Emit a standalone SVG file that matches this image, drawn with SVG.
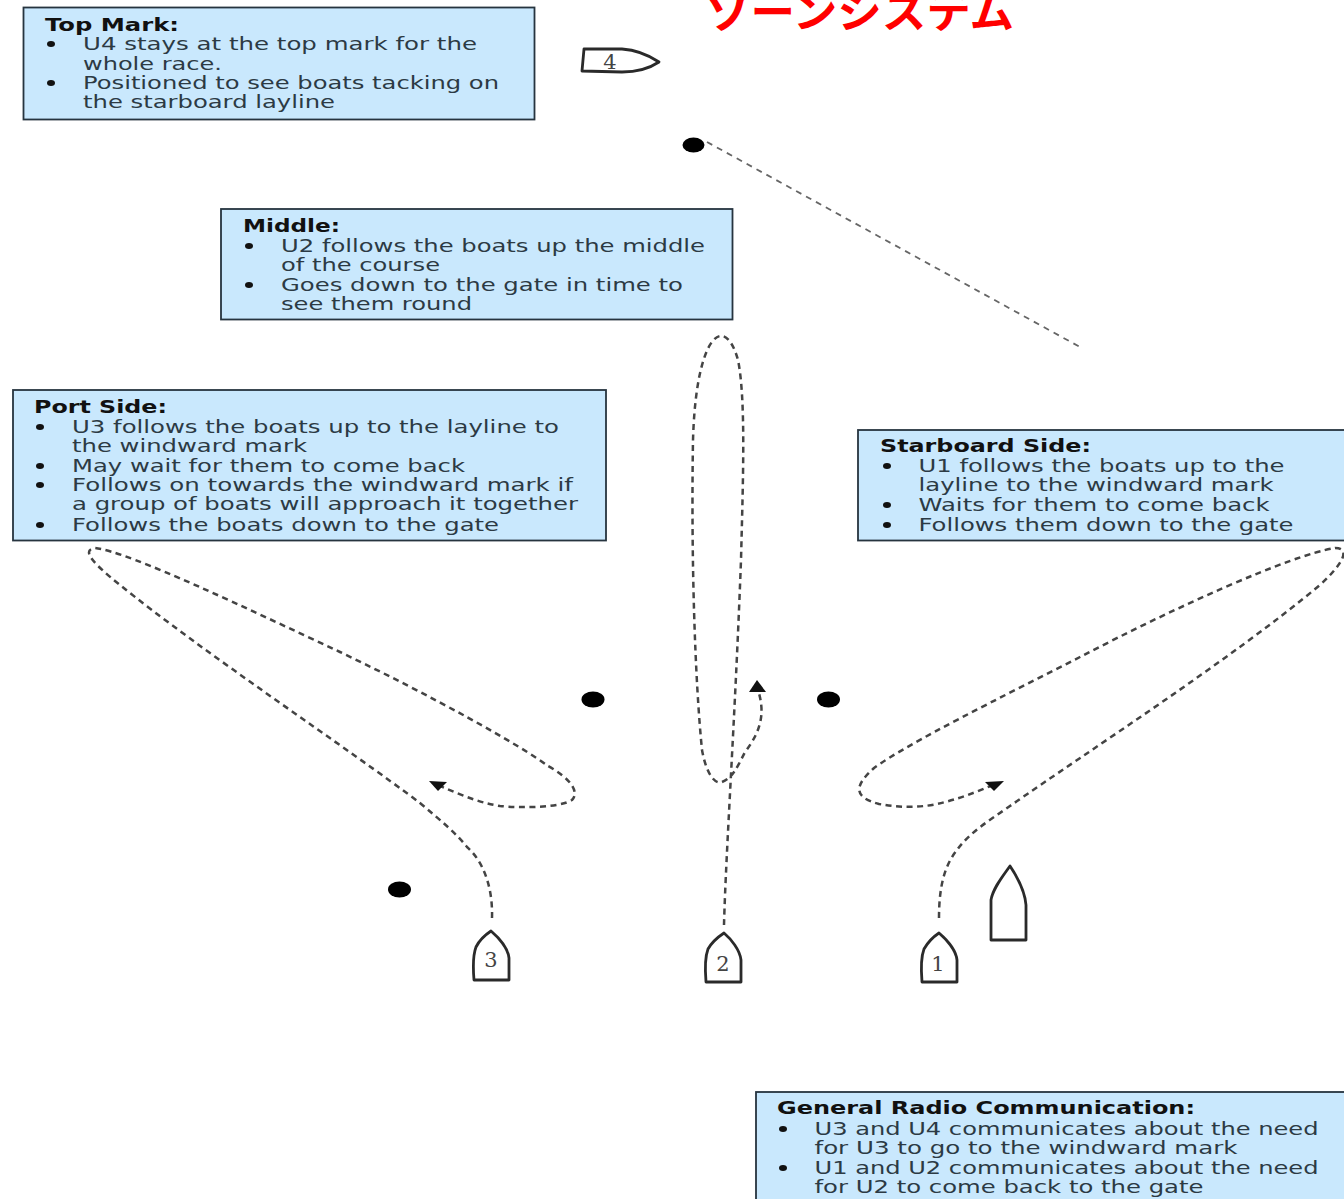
<svg xmlns="http://www.w3.org/2000/svg" width="1344" height="1199" viewBox="0 0 1344 1199">
<style>
.box{fill:#c9e8fd;stroke:#26343f;stroke-width:1.8}
.t{font-family:"DejaVu Sans","Liberation Sans",sans-serif;font-size:18px;fill:#2c3a44}
.b{font-weight:700;fill:#111}
.bul{fill:#111}
.path{fill:none;stroke:#444;stroke-width:2.5;stroke-dasharray:6 4.500}
.thin{fill:none;stroke:#666;stroke-width:1.8;stroke-dasharray:6 5.300}
.hull{fill:#fff;stroke:#2a2a2a;stroke-width:2.8;stroke-linejoin:round}
.num{font-family:"DejaVu Serif","Liberation Serif",serif;font-size:21px;fill:#444;text-anchor:middle}
.title{font-family:"Noto Sans CJK JP","Noto Sans",sans-serif;font-size:43px;font-weight:700;fill:#f00}
</style>
<defs><ellipse id="dot" class="bul" rx="4" ry="3"/></defs>
<text id="title" class="title" x="706" y="28" textLength="308" lengthAdjust="spacingAndGlyphs">ゾーンシステム</text>

<g id="connectors">
<path class="thin" d="M707 142L1080 347"/>
<path class="path" d="M492 918C493 885 482 860 467 847C455 832 440 820 420 803C350 750 200 650 120 585C95 565 80 550 95 548C130 552 250 610 340 652C430 695 520 745 548 766C570 778 580 792 572 800C560 808 520 808 500 806C475 802 455 792 435 784"/>
<path class="path" d="M939 918C939 885 945 865 957 850C970 832 990 820 1010 806C1090 750 1230 660 1320 585C1345 562 1350 548 1335 548C1290 555 1170 610 1080 657C1000 698 910 742 874 768C855 785 852 797 879 804C900 808 925 808 945 802C965 797 980 790 996 784"/>
<path class="path" d="M724 925C726 850 735 720 741 560C743 480 746 400 738 360C733 342 726 335 720 336C708 338 695 370 693 440C691 560 695 680 702 750C706 772 714 785 722 782C732 778 736 770 745 752C762 730 765 712 758 690"/>
<path d="M429 781L447 782L438 791z" fill="#111"/>
<path d="M1004 781L985 782L994 791z" fill="#111"/>
<path d="M757 680L749 692L766 692z" fill="#111"/>
</g>

<g id="mark-top"><ellipse cx="693.500" cy="145" rx="11" ry="7.500"/></g>
<g id="mark-gate-left"><ellipse cx="593" cy="699.500" rx="11.500" ry="8"/></g>
<g id="mark-gate-right"><ellipse cx="828.500" cy="699.500" rx="11.500" ry="8"/></g>
<g id="mark-port"><ellipse cx="399.500" cy="889.500" rx="11.500" ry="8"/></g>

<g id="boat-4"><path class="hull" d="M584 49L622 49C637 50 650 56 659 62C650 68 637 72 622 72L582 71z"/><text class="num" x="610" y="69">4</text></g>
<g id="boat-3"><path class="hull" d="M491 931C498 937 508 948 509 958L509 980L474 980C473 968 473 955 476 947C479 941 485 935 491 931z"/><text class="num" x="491" y="967">3</text></g>
<g id="boat-2"><path class="hull" d="M724 933C731 939 740 950 741 960L741 982L706 982C705 970 705 957 708 949C712 942 718 937 724 933z"/><text class="num" x="723" y="971">2</text></g>
<g id="boat-1"><path class="hull" d="M939 933C946 939 956 950 957 960L957 982L922 982C921 970 921 957 924 949C928 942 933 937 939 933z"/><text class="num" x="938" y="971">1</text></g>
<g id="boat-large"><path class="hull" d="M1010 866C1018 878 1025 892 1026 905L1026 940L991 940L991 900C993 888 1003 876 1010 866z"/></g>

<g id="top-mark"><rect class="box" x="23.500" y="7.500" width="511" height="112"/>
<text class="t b" x="45" y="31" textLength="134" lengthAdjust="spacingAndGlyphs">Top Mark:</text>
<use href="#dot" x="51" y="44"/><text class="t" x="83" y="50" textLength="394" lengthAdjust="spacingAndGlyphs">U4 stays at the top mark for the</text>
<text class="t" x="83" y="70" textLength="139" lengthAdjust="spacingAndGlyphs">whole race.</text>
<use href="#dot" x="51" y="83"/><text class="t" x="83" y="89" textLength="416" lengthAdjust="spacingAndGlyphs">Positioned to see boats tacking on</text>
<text class="t" x="83" y="108" textLength="252" lengthAdjust="spacingAndGlyphs">the starboard layline</text></g>

<g id="middle"><rect class="box" x="221" y="209" width="511.500" height="110.500"/>
<text class="t b" x="243" y="232" textLength="97" lengthAdjust="spacingAndGlyphs">Middle:</text>
<use href="#dot" x="249" y="246"/><text class="t" x="281" y="252" textLength="424" lengthAdjust="spacingAndGlyphs">U2 follows the boats up the middle</text>
<text class="t" x="281" y="271" textLength="159" lengthAdjust="spacingAndGlyphs">of the course</text>
<use href="#dot" x="249" y="285"/><text class="t" x="281" y="291" textLength="402" lengthAdjust="spacingAndGlyphs">Goes down to the gate in time to</text>
<text class="t" x="281" y="310" textLength="191" lengthAdjust="spacingAndGlyphs">see them round</text></g>

<g id="port-side"><rect class="box" x="13" y="390" width="593" height="150.500"/>
<text class="t b" x="34" y="413" textLength="133" lengthAdjust="spacingAndGlyphs">Port Side:</text>
<use href="#dot" x="40" y="427"/><text class="t" x="72" y="433" textLength="487" lengthAdjust="spacingAndGlyphs">U3 follows the boats up to the layline to</text>
<text class="t" x="72" y="452" textLength="235" lengthAdjust="spacingAndGlyphs">the windward mark</text>
<use href="#dot" x="40" y="466"/><text class="t" x="72" y="472" textLength="393" lengthAdjust="spacingAndGlyphs">May wait for them to come back</text>
<use href="#dot" x="40" y="485"/><text class="t" x="72" y="491" textLength="501" lengthAdjust="spacingAndGlyphs">Follows on towards the windward mark if</text>
<text class="t" x="72" y="510" textLength="506" lengthAdjust="spacingAndGlyphs">a group of boats will approach it together</text>
<use href="#dot" x="40" y="525"/><text class="t" x="72" y="531" textLength="427" lengthAdjust="spacingAndGlyphs">Follows the boats down to the gate</text></g>

<g id="starboard-side"><rect class="box" x="858" y="430" width="490" height="110.500"/>
<text class="t b" x="880" y="452" textLength="211" lengthAdjust="spacingAndGlyphs">Starboard Side:</text>
<use href="#dot" x="887" y="466"/><text class="t" x="918.500" y="472" textLength="366" lengthAdjust="spacingAndGlyphs">U1 follows the boats up to the</text>
<text class="t" x="918.500" y="491" textLength="355" lengthAdjust="spacingAndGlyphs">layline to the windward mark</text>
<use href="#dot" x="887" y="505"/><text class="t" x="918.500" y="511" textLength="351" lengthAdjust="spacingAndGlyphs">Waits for them to come back</text>
<use href="#dot" x="887" y="525"/><text class="t" x="918.500" y="531" textLength="375" lengthAdjust="spacingAndGlyphs">Follows them down to the gate</text></g>

<g id="radio"><rect class="box" x="756" y="1092" width="600" height="120"/>
<text class="t b" x="777" y="1114" textLength="418" lengthAdjust="spacingAndGlyphs">General Radio Communication:</text>
<use href="#dot" x="783" y="1129"/><text class="t" x="814.500" y="1135" textLength="504" lengthAdjust="spacingAndGlyphs">U3 and U4 communicates about the need</text>
<text class="t" x="814.500" y="1154" textLength="423" lengthAdjust="spacingAndGlyphs">for U3 to go to the windward mark</text>
<use href="#dot" x="783" y="1168"/><text class="t" x="814.500" y="1174" textLength="504" lengthAdjust="spacingAndGlyphs">U1 and U2 communicates about the need</text>
<text class="t" x="814.500" y="1193" textLength="389" lengthAdjust="spacingAndGlyphs">for U2 to come back to the gate</text></g>
</svg>
